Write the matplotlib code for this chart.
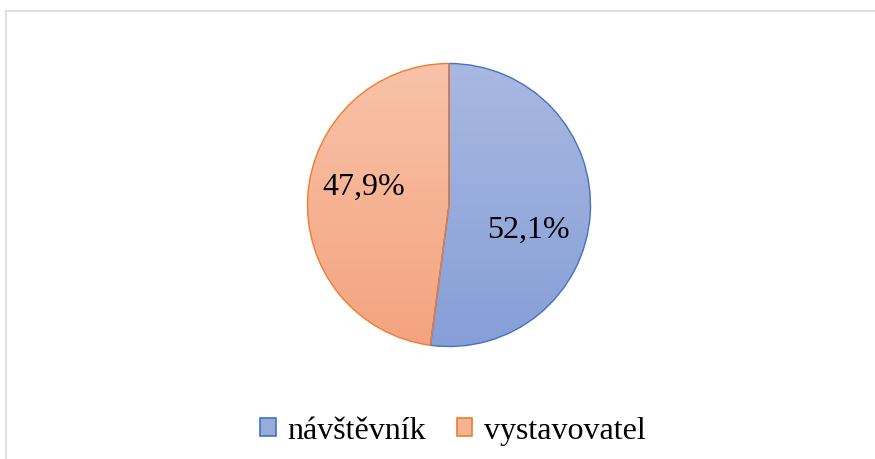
import numpy as np
import matplotlib
matplotlib.use("Agg")
import matplotlib.pyplot as plt
from matplotlib.colors import LinearSegmentedColormap
from matplotlib.patches import Patch
from matplotlib.lines import Line2D

categories = ["návštěvník", "vystavovatel"]
values = [52.1, 47.9]
edge_colors = ["#4472C4", "#ED7D31"]
grad_top = ["#A9B8E1", "#F8C3A9"]
grad_bottom = ["#869FD7", "#F4A37E"]

plt.rcParams['font.family'] = ['Liberation Serif', 'DejaVu Serif']

fig = plt.figure(figsize=(8.75, 4.6), dpi=100)
fig.patch.set_facecolor("white")

# chart frame (left and top visible)
fig.add_artist(Line2D([6/875, 6/875], [0, 1 - 12/460], color="#D9D9D9", lw=1.2, transform=fig.transFigure))
fig.add_artist(Line2D([6/875, 1], [1 - 12/460, 1 - 12/460], color="#D9D9D9", lw=1.2, transform=fig.transFigure))

cx, cy, r = 449, 206, 141.5
ax = fig.add_axes([(cx - r) / 875, (460 - cy - r) / 460, 2 * r / 875, 2 * r / 460])
ax.set_aspect("equal")
ax.axis("off")

wedges, texts, autotexts = ax.pie(
    values, startangle=90, counterclock=False, radius=1,
    autopct=lambda p: f"{p:.1f}%".replace(".", ","),
    wedgeprops=dict(linewidth=1.0),
    textprops=dict(fontsize=23, color="black"),
)
ax.set_xlim(-1, 1)
ax.set_ylim(-1, 1)
ax.set_clip_on(False)

grad = np.linspace(0, 1, 256).reshape(-1, 1)
for w, ec, top, bot in zip(wedges, edge_colors, grad_top, grad_bottom):
    w.set_facecolor("none")
    w.set_edgecolor(ec)
    w.set_zorder(3)
    w.set_clip_on(False)
    cmap = LinearSegmentedColormap.from_list("g", [top, bot])
    im = ax.imshow(grad, cmap=cmap, extent=(-1, 1, -1, 1), origin="upper",
                   aspect="auto", zorder=1, interpolation="bilinear")
    im.set_clip_path(w)

label_pos = [(0.56, -0.17), (-0.60, 0.13)]
for t, (x, y) in zip(autotexts, label_pos):
    t.set_position((x, y))
    t.set_zorder(5)

handles = [Patch(facecolor=(np.array(matplotlib.colors.to_rgb(t)) + np.array(matplotlib.colors.to_rgb(b))) / 2,
                 edgecolor=ec, linewidth=1.2)
           for t, b, ec in zip(grad_top, grad_bottom, edge_colors)]
fig.legend(handles, categories, loc="center", bbox_to_anchor=(453/875, 1 - 432/460),
           ncol=2, frameon=False, fontsize=23, handlelength=0.47, handleheight=0.47,
           handletextpad=0.38, columnspacing=0.95)

fig.savefig("out.png", dpi=100, facecolor="white")
